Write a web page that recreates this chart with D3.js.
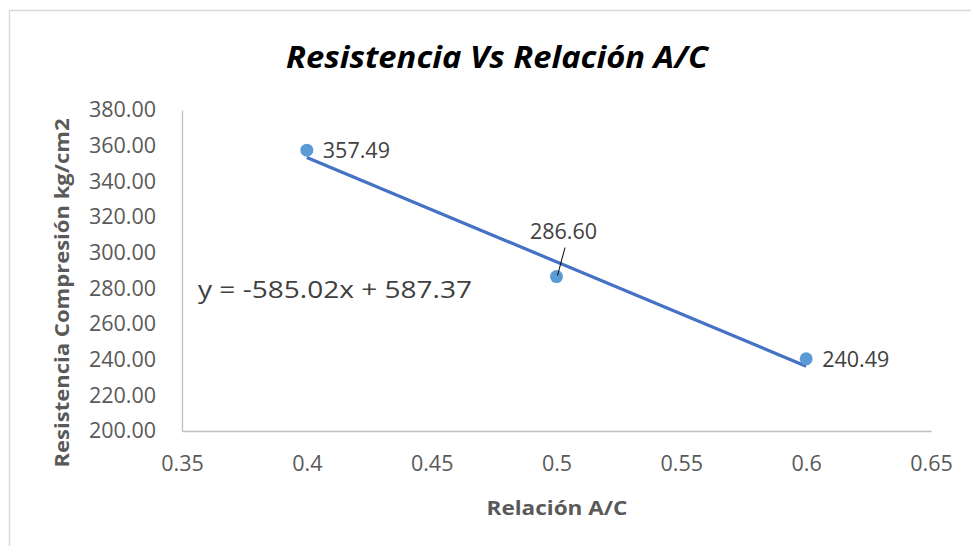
<!DOCTYPE html>
<html><head><meta charset="utf-8">
<script src="https://cdn.jsdelivr.net/npm/d3@7"></script>
<style>html,body{margin:0;padding:0;background:#fff;}svg{display:block;}</style>
</head><body>
<svg id="c" width="971" height="546"></svg>
<script>
const xValues = [0.4, 0.5, 0.6];
const yValues = [357.49, 286.60, 240.49];
const xTicks = [0.35, 0.4, 0.45, 0.5, 0.55, 0.6, 0.65];
const yTicks = [200, 220, 240, 260, 280, 300, 320, 340, 360, 380];
const slope = -585.02, intercept = 587.37;
const titleText = "Resistencia Vs Relación A/C";
const xTitle = "Relación A/C";
const yTitle = "Resistencia Compresión kg/cm2";

const svg = d3.select("#c");
const font = "'Open Sans', sans-serif";
const x = d3.scaleLinear().domain([0.35, 0.65]).range([182, 931]);
const y = d3.scaleLinear().domain([200, 380]).range([431, 110]);

// chart border
svg.append("rect").attr("x", 9.5).attr("y", 10.5).attr("width", 1200).attr("height", 800)
  .attr("fill", "none").attr("stroke", "#D9D9D9").attr("stroke-width", 1.5);

// axes
const xAxis = d3.axisBottom(x).tickValues(xTicks).tickSize(0).tickPadding(25)
  .tickFormat(d => String(+d.toFixed(2)));
const gx = svg.append("g").attr("transform", `translate(0,${y(200)})`).call(xAxis);
const yAxis = d3.axisLeft(y).tickValues(yTicks).tickSize(0).tickPadding(26)
  .tickFormat(d => d3.format(".2f")(d));
const gy = svg.append("g").attr("transform", `translate(${x(0.35)},0)`).call(yAxis);
[gx, gy].forEach(g => {
  g.select(".domain").attr("stroke", "#BFBFBF").attr("stroke-width", 1.3);
  g.selectAll("text").attr("font-family", font).attr("font-size", 21.5).attr("fill", "#595959");
});
gx.selectAll("text").attr("dy", "0.71em");

// trendline
svg.append("line")
  .attr("x1", x(xValues[0])).attr("y1", y(slope * xValues[0] + intercept))
  .attr("x2", x(xValues[2])).attr("y2", y(slope * xValues[2] + intercept))
  .attr("stroke", "#4472C4").attr("stroke-width", 3.2);

// points
svg.selectAll("circle.pt").data(xValues).enter().append("circle")
  .attr("class", "pt")
  .attr("cx", d => x(d)).attr("cy", (d, i) => y(yValues[i]))
  .attr("r", 6.5).attr("fill", "#5B9BD5");

// data labels
const labelFmt = d3.format(".2f");
svg.append("text").attr("x", x(xValues[0]) + 16).attr("y", y(yValues[0])).attr("dy", "0.36em")
  .attr("font-family", font).attr("font-size", 21.5).attr("fill", "#404040").text(labelFmt(yValues[0]));
svg.append("text").attr("x", x(xValues[2]) + 16).attr("y", y(yValues[2])).attr("dy", "0.36em")
  .attr("font-family", font).attr("font-size", 21.5).attr("fill", "#404040").text(labelFmt(yValues[2]));
svg.append("text").attr("x", x(xValues[1]) + 7).attr("y", y(yValues[1]) - 45).attr("dy", "0.36em")
  .attr("text-anchor", "middle")
  .attr("font-family", font).attr("font-size", 21.5).attr("fill", "#404040").text(labelFmt(yValues[1]));
svg.append("line")
  .attr("x1", x(xValues[1]) + 8.5).attr("y1", y(yValues[1]) - 29)
  .attr("x2", x(xValues[1]) + 1).attr("y2", y(yValues[1]) - 1)
  .attr("stroke", "#000").attr("stroke-width", 1);

// equation
svg.append("text").attr("x", 198).attr("y", 298)
  .attr("font-family", font).attr("font-size", 23).attr("fill", "#404040")
  .attr("textLength", 274).attr("lengthAdjust", "spacingAndGlyphs")
  .text(`y = ${slope.toFixed(2)}x + ${intercept.toFixed(2)}`);

// title
svg.append("text").attr("x", 497).attr("y", 68).attr("text-anchor", "middle")
  .attr("font-family", font).attr("font-size", 31).attr("font-weight", "bold").attr("font-style", "italic")
  .attr("fill", "#000").attr("textLength", 422).attr("lengthAdjust", "spacingAndGlyphs")
  .text(titleText);

// axis titles
svg.append("text").attr("x", 557).attr("y", 515).attr("text-anchor", "middle")
  .attr("font-family", font).attr("font-size", 19).attr("font-weight", "bold").attr("fill", "#595959")
  .attr("textLength", 141).attr("lengthAdjust", "spacingAndGlyphs")
  .text(xTitle);
svg.append("text").attr("transform", "translate(69,293) rotate(-90)").attr("text-anchor", "middle")
  .attr("font-family", font).attr("font-size", 19).attr("font-weight", "bold").attr("fill", "#595959")
  .attr("textLength", 349).attr("lengthAdjust", "spacingAndGlyphs")
  .text(yTitle);
</script>
</body></html>
